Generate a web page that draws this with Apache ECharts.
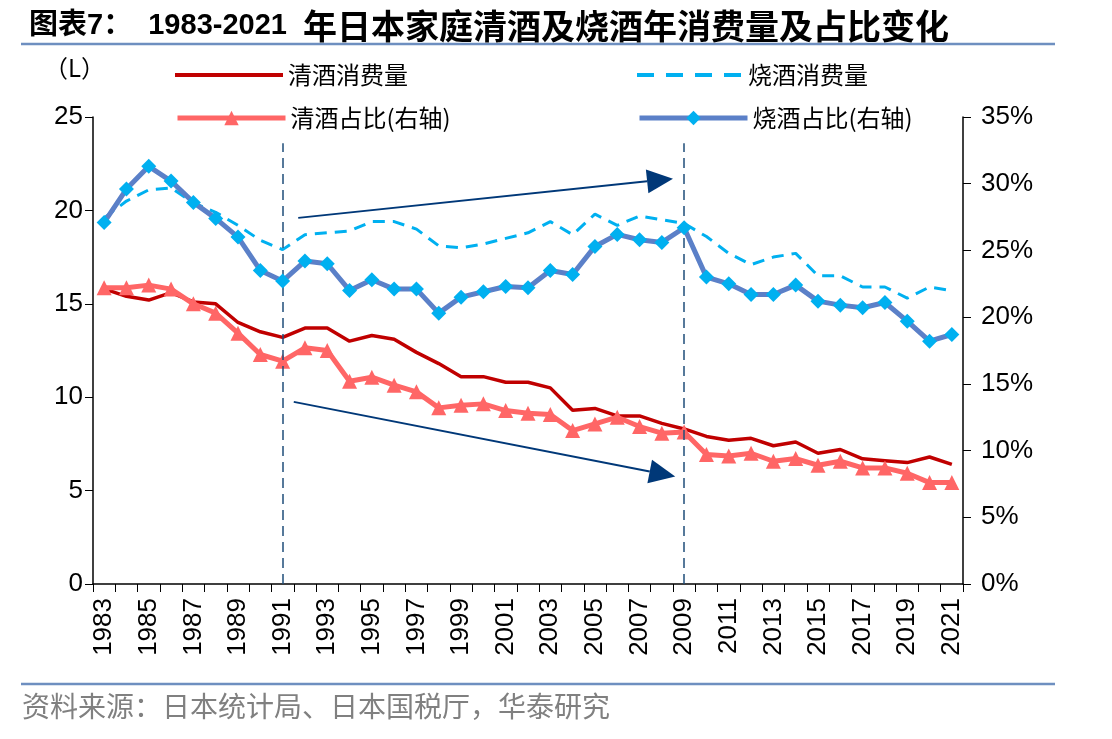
<!DOCTYPE html>
<html>
<head>
<meta charset="utf-8">
<script src="https://cdn.jsdelivr.net/npm/echarts@6/dist/echarts.min.js"></script>
<style>
  html, body { margin: 0; padding: 0; background: #fff; }
  #chart { width: 1112px; height: 739px; }
</style>
</head>
<body>
<div id="chart"></div>
<script>
// 年份
var years = ['1983','1984','1985','1986','1987','1988','1989','1990','1991','1992','1993','1994','1995',
  '1996','1997','1998','1999','2000','2001','2002','2003','2004','2005','2006','2007','2008','2009',
  '2010','2011','2012','2013','2014','2015','2016','2017','2018','2019','2020','2021'];

// 清酒消费量 (L)
var sakeVol = [15.8,15.4,15.2,15.6,15.1,15.0,14.0,13.5,13.2,13.7,13.7,13.0,13.3,
  13.1,12.4,11.8,11.1,11.1,10.8,10.8,10.5,9.3,9.4,9.0,9.0,8.6,8.3,
  7.9,7.7,7.8,7.4,7.6,7.0,7.2,6.7,6.6,6.5,6.8,6.4];

// 烧酒消费量 (L)
var shochuVol = [19.6,20.5,21.1,21.2,20.4,19.9,19.2,18.4,17.9,18.7,18.8,18.9,19.4,
  19.4,19.0,18.1,18.0,18.2,18.5,18.8,19.4,18.7,19.8,19.2,19.7,19.5,19.3,
  18.6,17.7,17.1,17.5,17.7,16.5,16.5,15.9,15.9,15.3,15.9,15.7];

// 清酒占比 (%)
var sakeShare = [22.2,22.2,22.4,22.1,21.0,20.3,18.8,17.2,16.7,17.7,17.5,15.2,15.5,
  14.9,14.4,13.2,13.4,13.5,13.0,12.8,12.7,11.5,12.0,12.5,11.8,11.3,11.4,
  9.7,9.6,9.8,9.2,9.4,8.9,9.2,8.7,8.7,8.3,7.6,7.6];

// 烧酒占比 (%)
var shochuShare = [27.1,29.6,31.3,30.2,28.6,27.4,26.0,23.5,22.7,24.2,24.0,22.0,22.8,
  22.1,22.1,20.3,21.5,21.9,22.3,22.2,23.5,23.2,25.3,26.2,25.8,25.6,26.7,
  23.0,22.5,21.7,21.7,22.4,21.2,20.9,20.7,21.1,19.7,18.2,18.7];

var leftTicks = [0, 25, 5];   // min, max, interval
var rightTicks = [0, 35, 5];

var cnFont = "'Noto Sans CJK SC', sans-serif";
var numFont = "'Liberation Sans', 'Noto Sans CJK SC', sans-serif";

var myChart = echarts.init(document.getElementById('chart'));

function legendAt(name, left, top, extra) {
  var lg = {
    data: [name],
    left: left,
    top: top,
    padding: 0,
    itemWidth: 108,
    itemHeight: 18,
    itemGap: 0,
    selectedMode: false,
    textStyle: { fontSize: 24, color: '#000', fontFamily: cnFont }
  };
  for (var k in extra) lg[k] = extra[k];
  return lg;
}

var solidBar = 'path://M0,0h108v4h-108z';
var dashBar = 'path://M0,0h17v4h-17z M29,0h17v4h-17z M58,0h17v4h-17z M87,0h17v4h-17z';

var option = {
  animation: false,
  backgroundColor: '#fff',
  title: {
    text: '{a|图表7：  1983-2021  }{b|年日本家庭清酒及烧酒年消费量及占比变化}',
    left: 24,
    top: 4,
    textStyle: {
      rich: {
        a: { fontSize: 29, fontWeight: 'bold', color: '#000', fontFamily: numFont },
        b: { fontSize: 34, fontWeight: 'bold', color: '#000', fontFamily: cnFont }
      }
    }
  },
  legend: [
    legendAt('清酒消费量', 175, 63, { icon: solidBar, itemHeight: 4 }),
    legendAt('烧酒消费量', 637, 63, { icon: dashBar, itemHeight: 4 }),
    legendAt('清酒占比(右轴)', 175, 106, { lineStyle: { width: 5 } }),
    legendAt('烧酒占比(右轴)', 637, 106, { lineStyle: { width: 5 } })
  ],
  grid: { left: 93, right: 149, top: 117, bottom: 155 },
  xAxis: {
    type: 'category',
    data: years,
    boundaryGap: true,
    axisLine: { lineStyle: { color: '#000', width: 1.5 } },
    axisTick: { show: true, interval: 0, length: 8, lineStyle: { color: '#000' } },
    axisLabel: { interval: 1, rotate: 90, fontSize: 26, color: '#000', fontFamily: numFont, margin: 14 }
  },
  yAxis: [
    {
      type: 'value',
      min: leftTicks[0], max: leftTicks[1], interval: leftTicks[2],
      axisLine: { show: true, lineStyle: { color: '#000', width: 1.5 } },
      axisTick: { show: true, length: 8, lineStyle: { color: '#000' } },
      splitLine: { show: false },
      axisLabel: { fontSize: 26, color: '#000', fontFamily: numFont, margin: 10 }
    },
    {
      type: 'value',
      position: 'right',
      min: rightTicks[0], max: rightTicks[1], interval: rightTicks[2],
      axisLine: { show: true, lineStyle: { color: '#000', width: 1.5 } },
      axisTick: { show: true, length: 8, lineStyle: { color: '#000' } },
      splitLine: { show: false },
      axisLabel: { fontSize: 26, color: '#000', fontFamily: numFont, margin: 18, formatter: '{value}%' }
    }
  ],
  series: [
    {
      name: '清酒消费量',
      type: 'line',
      data: sakeVol,
      yAxisIndex: 0,
      showSymbol: false,
      symbol: 'none',
      z: 3,
      itemStyle: { color: '#C00000' },
      lineStyle: { color: '#C00000', width: 3.5 },
      markLine: {
        silent: true,
        symbol: 'none',
        label: { show: false },
        lineStyle: { color: '#1F4E79', width: 1.5, type: [10, 6] },
        data: [
          [{ coord: ['1991', 0] }, { coord: ['1991', 23.6] }],
          [{ coord: ['2009', 0] }, { coord: ['2009', 23.6] }]
        ]
      }
    },
    {
      name: '烧酒消费量',
      type: 'line',
      data: shochuVol,
      yAxisIndex: 0,
      showSymbol: false,
      symbol: 'none',
      z: 2,
      itemStyle: { color: '#00B0F0' },
      lineStyle: { color: '#00B0F0', width: 3, type: [12, 8] }
    },
    {
      name: '清酒占比(右轴)',
      type: 'line',
      data: sakeShare,
      yAxisIndex: 1,
      symbol: 'triangle',
      symbolSize: 15,
      showAllSymbol: true,
      z: 4,
      itemStyle: { color: '#FF6666' },
      lineStyle: { color: '#FF6666', width: 5 }
    },
    {
      name: '烧酒占比(右轴)',
      type: 'line',
      data: shochuShare,
      yAxisIndex: 1,
      symbol: 'diamond',
      symbolSize: 15,
      showAllSymbol: true,
      z: 5,
      itemStyle: { color: '#00B0F0' },
      lineStyle: { color: '#5B80C8', width: 5 }
    }
  ]
};

myChart.setOption(option);

// 箭头: 以类目序号和左轴数值定位
function pt(idx, val) {
  var x0 = myChart.convertToPixel({ xAxisIndex: 0 }, 0);
  var x1 = myChart.convertToPixel({ xAxisIndex: 0 }, 1);
  var y = myChart.convertToPixel({ yAxisIndex: 0 }, val);
  return [x0 + (x1 - x0) * idx, y];
}

function arrow(p0, p1, color) {
  var dx = p1[0] - p0[0], dy = p1[1] - p0[1];
  var len = Math.sqrt(dx * dx + dy * dy);
  var ux = dx / len, uy = dy / len;
  var hl = 26, hw = 12;
  var bx = p1[0] - ux * hl, by = p1[1] - uy * hl;
  return [
    { type: 'line', shape: { x1: p0[0], y1: p0[1], x2: bx, y2: by }, style: { stroke: color, lineWidth: 2 } },
    { type: 'polygon', shape: { points: [[p1[0], p1[1]], [bx - uy * hw, by + ux * hw], [bx + uy * hw, by - ux * hw]] }, style: { fill: color } }
  ];
}

var graphics = [
  { type: 'line', shape: { x1: 21, y1: 44, x2: 1055, y2: 44 }, style: { stroke: '#6E8FC0', lineWidth: 2.5 } },
  { type: 'line', shape: { x1: 21, y1: 684, x2: 1055, y2: 684 }, style: { stroke: '#6E8FC0', lineWidth: 2.5 } },
  { type: 'text', left: 44, top: 56, style: { text: '（L）', fontSize: 24, fill: '#000', fontFamily: cnFont } },
  { type: 'text', left: 22, top: 692, style: { text: '资料来源：日本统计局、日本国税厅，华泰研究', fontSize: 28, fill: '#808080', fontFamily: cnFont } }
];
graphics = graphics.concat(arrow(pt(8.7, 19.6), pt(25.5, 21.7), '#003878'));
graphics = graphics.concat(arrow(pt(8.5, 9.75), pt(25.6, 5.75), '#003878'));

myChart.setOption({ graphic: graphics });
</script>
</body>
</html>
